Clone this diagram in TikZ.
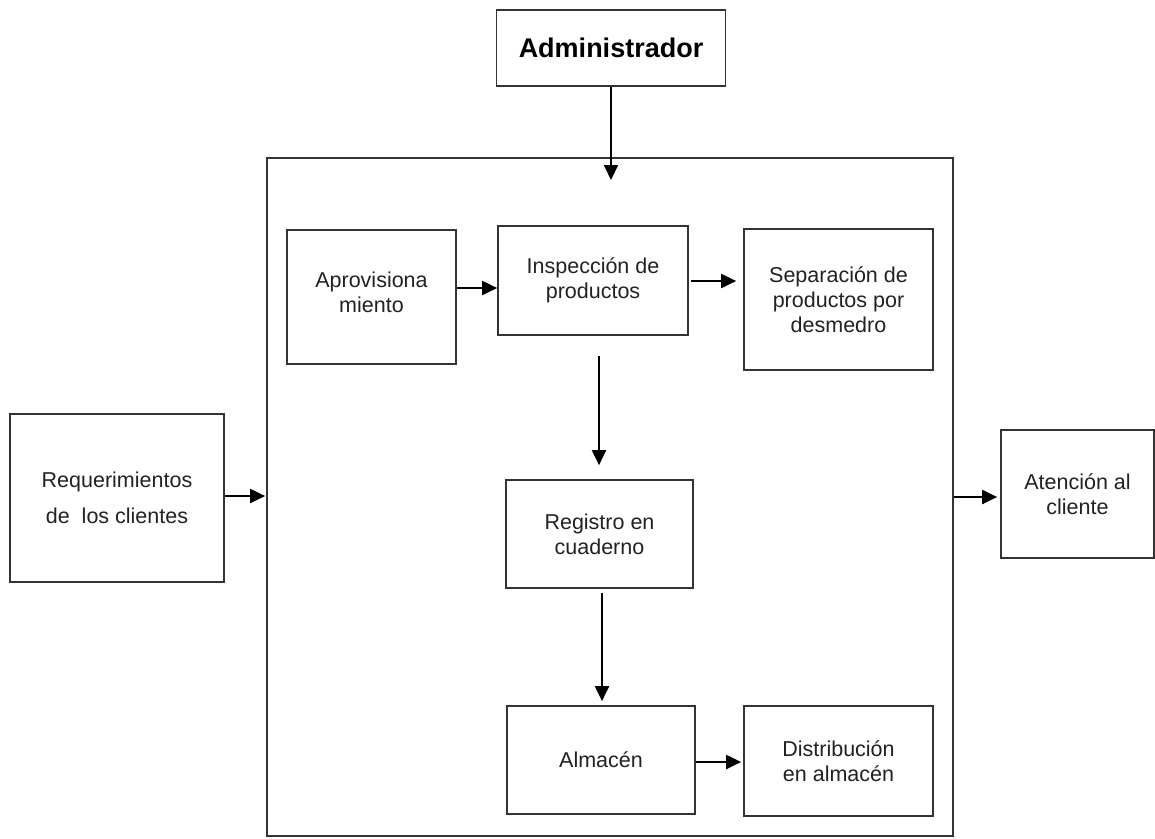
\documentclass[tikz,border=0pt]{standalone}
\usepackage{fontspec}
\setmainfont{Liberation Sans}
\usetikzlibrary{arrows.meta,calc}
\definecolor{ink}{HTML}{222222}
\definecolor{frame}{HTML}{333333}
\tikzset{
  box/.style={draw=frame, line width=1.7pt, fill=white, inner sep=0pt, align=center,
              text=ink, font=\fontsize{21.5}{25}\selectfont},
  flow/.style={line width=2pt, draw=black,
               -{Triangle[length=15pt,width=14pt]}},
}
\begin{document}
\begin{tikzpicture}[x=1pt,y=-1pt]
  \useasboundingbox (0,0) rectangle (1155,838);

  % surrounding process frame
  \node[box, minimum width=686pt, minimum height=678pt] (proc) at (610,497) {};

  % outside actors
  \node[box, minimum width=229pt, minimum height=76pt,
        font=\fontsize{27}{30}\selectfont\bfseries, text=black] (admin) at (611,48) {Administrador};
  \node[box, minimum width=214pt, minimum height=168pt,
        font=\fontsize{21.5}{36}\selectfont] (req) at (117,498) {Requerimientos\\de\ \ los clientes};
  \node[box, minimum width=153pt, minimum height=128pt] (aten) at (1077.5,494) {Atención al\\cliente};

  % internal steps
  \node[box, minimum width=169pt, minimum height=134pt] (aprov) at (371.5,297) {};
  \node[align=center, text=ink, font=\fontsize{21.5}{25}\selectfont, inner sep=0pt]
        (aprovtxt) at (371.5,292) {Aprovisiona\\miento};
  \node[box, minimum width=190pt, minimum height=109pt] (insp) at (593,280.5) {Inspección de\\productos};
  \node[box, minimum width=189pt, minimum height=141pt] (sep) at (838.5,299.5) {Separación de\\productos por\\desmedro};
  \node[box, minimum width=187pt, minimum height=108pt] (reg) at (599.5,534) {Registro en\\cuaderno};
  \node[box, minimum width=188pt, minimum height=108pt] (alm) at (601,760) {Almacén};
  \node[box, minimum width=189pt, minimum height=110pt] (dist) at (838.5,761) {Distribución\\en almacén};

  % admin arrow ends inside the frame
  \coordinate (admtip) at (611,180);

  % connectors
  \draw[flow] (admin.south) -- (admtip);
  \draw[flow] (aprov.east |- 0,288) -- (insp.west |- 0,288);
  \draw[flow, shorten <=2pt, shorten >=7pt] (insp.east |- 0,281) -- (sep.west |- 0,281);
  \draw[flow, shorten <=20pt, shorten >=14pt] (insp.south -| 599,0) -- (reg.north -| 599,0);
  \draw[flow, shorten <=4pt, shorten >=4pt] (reg.south -| 602,0) -- (alm.north -| 602,0);
  \draw[flow, shorten >=2pt] (alm.east |- 0,762) -- (dist.west |- 0,762);
  \draw[flow, shorten >=1pt] (req.east |- 0,496) -- (proc.west |- 0,496);
  \draw[flow, shorten >=3pt] (proc.east |- 0,497) -- (aten.west |- 0,497);
\end{tikzpicture}
\end{document}
